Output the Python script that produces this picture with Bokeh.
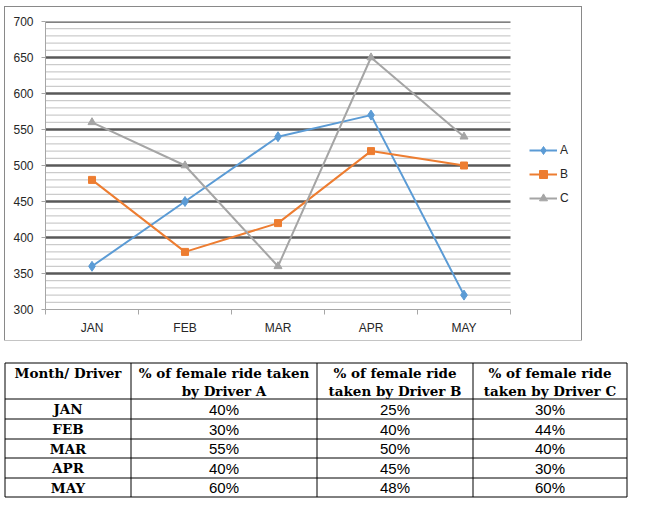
from bokeh.plotting import figure
from bokeh.models import Range1d, FixedTicker, Legend, LegendItem
from bokeh.embed import file_html
from bokeh.resources import INLINE
from bokeh.core.properties import value

# ---------------- data ----------------
months = ["JAN", "FEB", "MAR", "APR", "MAY"]
a_vals = [360, 450, 540, 570, 320]
b_vals = [480, 380, 420, 520, 500]
c_vals = [560, 500, 360, 650, 540]
y_ticks = [300, 350, 400, 450, 500, 550, 600, 650, 700]
y_minor = list(range(310, 700, 10))

table_header = ["Month/ Driver",
                ["% of female ride taken", "by Driver A"],
                ["% of female ride", "taken by Driver B"],
                ["% of female ride", "taken by Driver C"]]
pct_a = ["40%", "30%", "55%", "40%", "60%"]
pct_b = ["25%", "40%", "50%", "45%", "48%"]
pct_c = ["30%", "44%", "40%", "30%", "60%"]

# ---------------- chart ----------------
n = len(months)
xs = [i + 0.5 for i in range(n)]
plot_w = 465          # px of the plotting area holding the categories
frame_w = 535         # px of the frame (plot area + legend area)
x_end = n * frame_w / plot_w

p = figure(width=576, height=333, x_range=Range1d(0, x_end),
           y_range=Range1d(300, 700), output_backend="svg",
           toolbar_location=None, min_border_left=40, min_border_right=1,
           min_border_top=14, min_border_bottom=31)
p.outline_line_color = None
p.styles = {"margin-left": "5px", "margin-top": "7px",
            "outline": "1px solid #898989", "outline-offset": "0px"}

# axes
p.xaxis.bounds = (0, n)
p.xaxis.ticker = FixedTicker(ticks=xs, minor_ticks=list(range(n + 1)))
p.xaxis.major_label_overrides = {x: m for x, m in zip(xs, months)}
p.xaxis.major_tick_out = 0
p.xaxis.major_tick_in = 0
p.xaxis.minor_tick_out = 5
p.xaxis.minor_tick_in = 0
p.xaxis.major_label_standoff = 6
p.xaxis.axis_line_color = "#a6a6a6"
p.xaxis.minor_tick_line_color = "#a6a6a6"
p.xaxis.major_label_text_font = "Liberation Sans"
p.xaxis.major_label_text_font_size = "12px"
p.xaxis.major_label_text_color = "#262626"

p.yaxis.ticker = FixedTicker(ticks=y_ticks, minor_ticks=[])
p.yaxis.major_tick_out = 4
p.yaxis.major_tick_in = 0
p.yaxis.minor_tick_out = 0
p.yaxis.major_label_standoff = 8
p.yaxis.axis_line_color = "#a6a6a6"
p.yaxis.major_tick_line_color = "#a6a6a6"
p.yaxis.major_label_text_font = "Liberation Sans"
p.yaxis.major_label_text_font_size = "12px"
p.yaxis.major_label_text_color = "#262626"

# grid lines limited to the category area
p.grid.visible = False
minor = [v for v in y_minor if v % 50]
p.segment(x0=[0] * len(minor), x1=[n] * len(minor), y0=minor, y1=minor,
          line_color="#bfbfbf", line_width=1)
major = y_ticks[1:]
p.segment(x0=[0] * len(major), x1=[n] * len(major), y0=major, y1=major,
          line_color="#595959", line_width=2.5)

# series
la = p.line(xs, a_vals, line_color="#5B9BD5", line_width=2)
ma = p.scatter(xs, a_vals, marker="diamond", size=10, color="#5B9BD5")
lb = p.line(xs, b_vals, line_color="#ED7D31", line_width=2)
mb = p.scatter(xs, b_vals, marker="square", size=7, color="#ED7D31")
lc = p.line(xs, c_vals, line_color="#A5A5A5", line_width=2)
mc = p.scatter(xs, c_vals, marker="triangle", size=8, color="#A5A5A5")

legend = Legend(items=[LegendItem(label="A", renderers=[la, ma]),
                       LegendItem(label="B", renderers=[lb, mb]),
                       LegendItem(label="C", renderers=[lc, mc])],
                location=(484, 101), orientation="vertical")
legend.glyph_width = 28
legend.glyph_height = 20
legend.label_height = 20
legend.spacing = 4
legend.padding = 0
legend.margin = 0
legend.label_standoff = 3
legend.border_line_color = None
legend.background_fill_alpha = 0
legend.label_text_font = "Liberation Sans"
legend.label_text_font_size = "12px"
legend.label_text_color = "#262626"
p.add_layout(legend)

# ---------------- table ----------------
t = figure(width=630, height=158, x_range=Range1d(0, 630), y_range=Range1d(158, 0),
           output_backend="svg", toolbar_location=None,
           x_axis_location=None, y_axis_location=None,
           min_border=0, min_border_left=0, min_border_right=0,
           min_border_top=0, min_border_bottom=0)
t.grid.visible = False
t.outline_line_color = None

col_x = [4.5, 130.5, 316.5, 472.5, 626.5]
row_y = [22.5, 58.5, 78.5, 98.5, 117.5, 137.5, 156.5]

t.segment(x0=[col_x[0]] * len(row_y), x1=[col_x[-1]] * len(row_y),
          y0=row_y, y1=row_y, line_color="black", line_width=1)
t.segment(x0=col_x, x1=col_x, y0=[row_y[0]] * len(col_x), y1=[row_y[-1]] * len(col_x),
          line_color="black", line_width=1)

centers = [(col_x[i] + col_x[i + 1]) / 2 for i in range(4)]
serif = value("DejaVu Serif")
sans = value("Liberation Sans")
hdr1, hdr2 = 32, 50

# header
t.text(x=[centers[0]], y=[hdr1], text=[table_header[0]], text_font=serif,
       text_font_style="bold", text_font_size="13.5px", text_align="center",
       text_baseline="middle", text_color="black")
for i in range(1, 4):
    t.text(x=[centers[i], centers[i]], y=[hdr1, hdr2], text=table_header[i], text_font=serif,
           text_font_style="bold", text_font_size="13.5px", text_align="center",
           text_baseline="middle", text_color="black")

row_centers = [(row_y[i] + row_y[i + 1]) / 2 for i in range(1, len(row_y) - 1)]
t.text(x=[centers[0]] * len(months), y=row_centers, text=months, text_font=serif,
       text_font_style="bold", text_font_size="13.5px", text_align="center",
       text_baseline="middle", text_color="black")
for i, col in enumerate([pct_a, pct_b, pct_c]):
    t.text(x=[centers[i + 1]] * len(col), y=row_centers, text=col, text_font=sans,
           text_font_size="15px", text_align="center", text_baseline="middle",
           text_color="black")

open("out.html", "w").write(file_html((p, t), INLINE))
